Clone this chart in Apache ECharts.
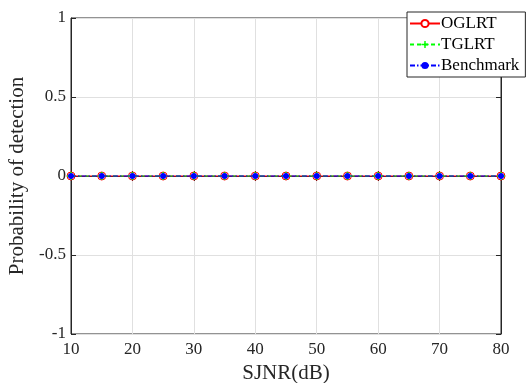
<!DOCTYPE html>
<html><head><meta charset="utf-8">
<script src="https://cdn.jsdelivr.net/npm/echarts@6/dist/echarts.min.js"></script>
<style>html,body{margin:0;padding:0;background:#fff}#c{width:529px;height:383px}</style>
</head><body><div id="c"></div>
<script>
const sjnr = [10,15,20,25,30,35,40,45,50,55,60,65,70,75,80];
const oglrt = [0,0,0,0,0,0,0,0,0,0,0,0,0,0,0];
const tglrt = [0,0,0,0,0,0,0,0,0,0,0,0,0,0,0];
const benchmark = [0,0,0,0,0,0,0,0,0,0,0,0,0,0,0];
const xTicks = [10,20,30,40,50,60,70,80];
const yTicks = [-1,-0.5,0,0.5,1];

const font = 'Liberation Serif';
const pair = arr => sjnr.map((x,i)=>[x,arr[i]]);
const plusPath = 'path://M4,0 L6,0 L6,4 L10,4 L10,6 L6,6 L6,10 L4,10 L4,6 L0,6 L0,4 L4,4 Z';
const chart = echarts.init(document.getElementById('c'));
chart.setOption({
  animation:false,
  backgroundColor:'#fff',
  grid:{left:71,right:28,top:18,bottom:49,outerBoundsMode:'none',containLabel:false,show:true,borderColor:'#262626',borderWidth:1,backgroundColor:'#fff'},
  xAxis:[{type:'value',min:10,max:80,interval:10,
    axisLine:{show:true,lineStyle:{color:'#262626'}},
    axisTick:{inside:true,length:5,lineStyle:{color:'#262626'}},
    splitLine:{show:true,lineStyle:{color:'#e0e0e0'}},
    axisLabel:{fontFamily:font,fontSize:17,color:'#262626',margin:7,formatter:v=>xTicks.includes(v)?String(v):''},
    name:'SJNR(dB)',nameLocation:'middle',nameGap:28,nameTextStyle:{fontFamily:font,fontSize:21,color:'#262626'}},
   {type:'value',position:'top',min:10,max:80,interval:10,axisLine:{show:true,lineStyle:{color:'#262626'}},
    axisTick:{inside:true,length:5,lineStyle:{color:'#262626'}},axisLabel:{show:false},splitLine:{show:false}}],
  yAxis:[{type:'value',min:-1,max:1,interval:0.5,
    axisLine:{show:true,lineStyle:{color:'#262626'}},
    axisTick:{inside:true,length:5,lineStyle:{color:'#262626'}},
    splitLine:{show:true,lineStyle:{color:'#e0e0e0'}},
    axisLabel:{fontFamily:font,fontSize:17,color:'#262626',margin:5,formatter:v=>yTicks.includes(v)?String(v):''},
    name:'Probability of detection',nameLocation:'middle',nameGap:38,nameTextStyle:{fontFamily:font,fontSize:21,color:'#262626'}},
   {type:'value',position:'right',min:-1,max:1,interval:0.5,axisLine:{show:true,lineStyle:{color:'#262626'}},
    axisTick:{inside:true,length:5,lineStyle:{color:'#262626'}},axisLabel:{show:false},splitLine:{show:false}}],
  legend:{orient:'vertical',left:407,top:12,width:120,padding:[3,6,3,2],itemGap:4,
    itemWidth:30,itemHeight:9,
    backgroundColor:'#fff',borderColor:'#262626',borderWidth:1,
    textStyle:{fontFamily:font,fontSize:17,color:'#000',padding:[0,0,0,-4]},
    data:['OGLRT','TGLRT','Benchmark']},
  series:[
    {name:'OGLRT',type:'line',data:pair(oglrt),symbol:'circle',symbolSize:8,
      lineStyle:{color:'#ff0000',width:1},itemStyle:{color:'#fff',borderColor:'#ff0000',borderWidth:1},z:2},
    {name:'TGLRT',type:'line',data:pair(tglrt),symbol:plusPath,symbolSize:8,
      lineStyle:{color:'#00ff00',width:1,type:[4,3]},itemStyle:{color:'#00ff00'},z:3},
    {name:'Benchmark',type:'line',data:pair(benchmark),symbol:'circle',symbolSize:6,
      lineStyle:{color:'#0000ff',width:1.2,type:[5,2,1.5,2]},itemStyle:{color:'#0000ff'},z:4}
  ]
});
</script></body></html>
